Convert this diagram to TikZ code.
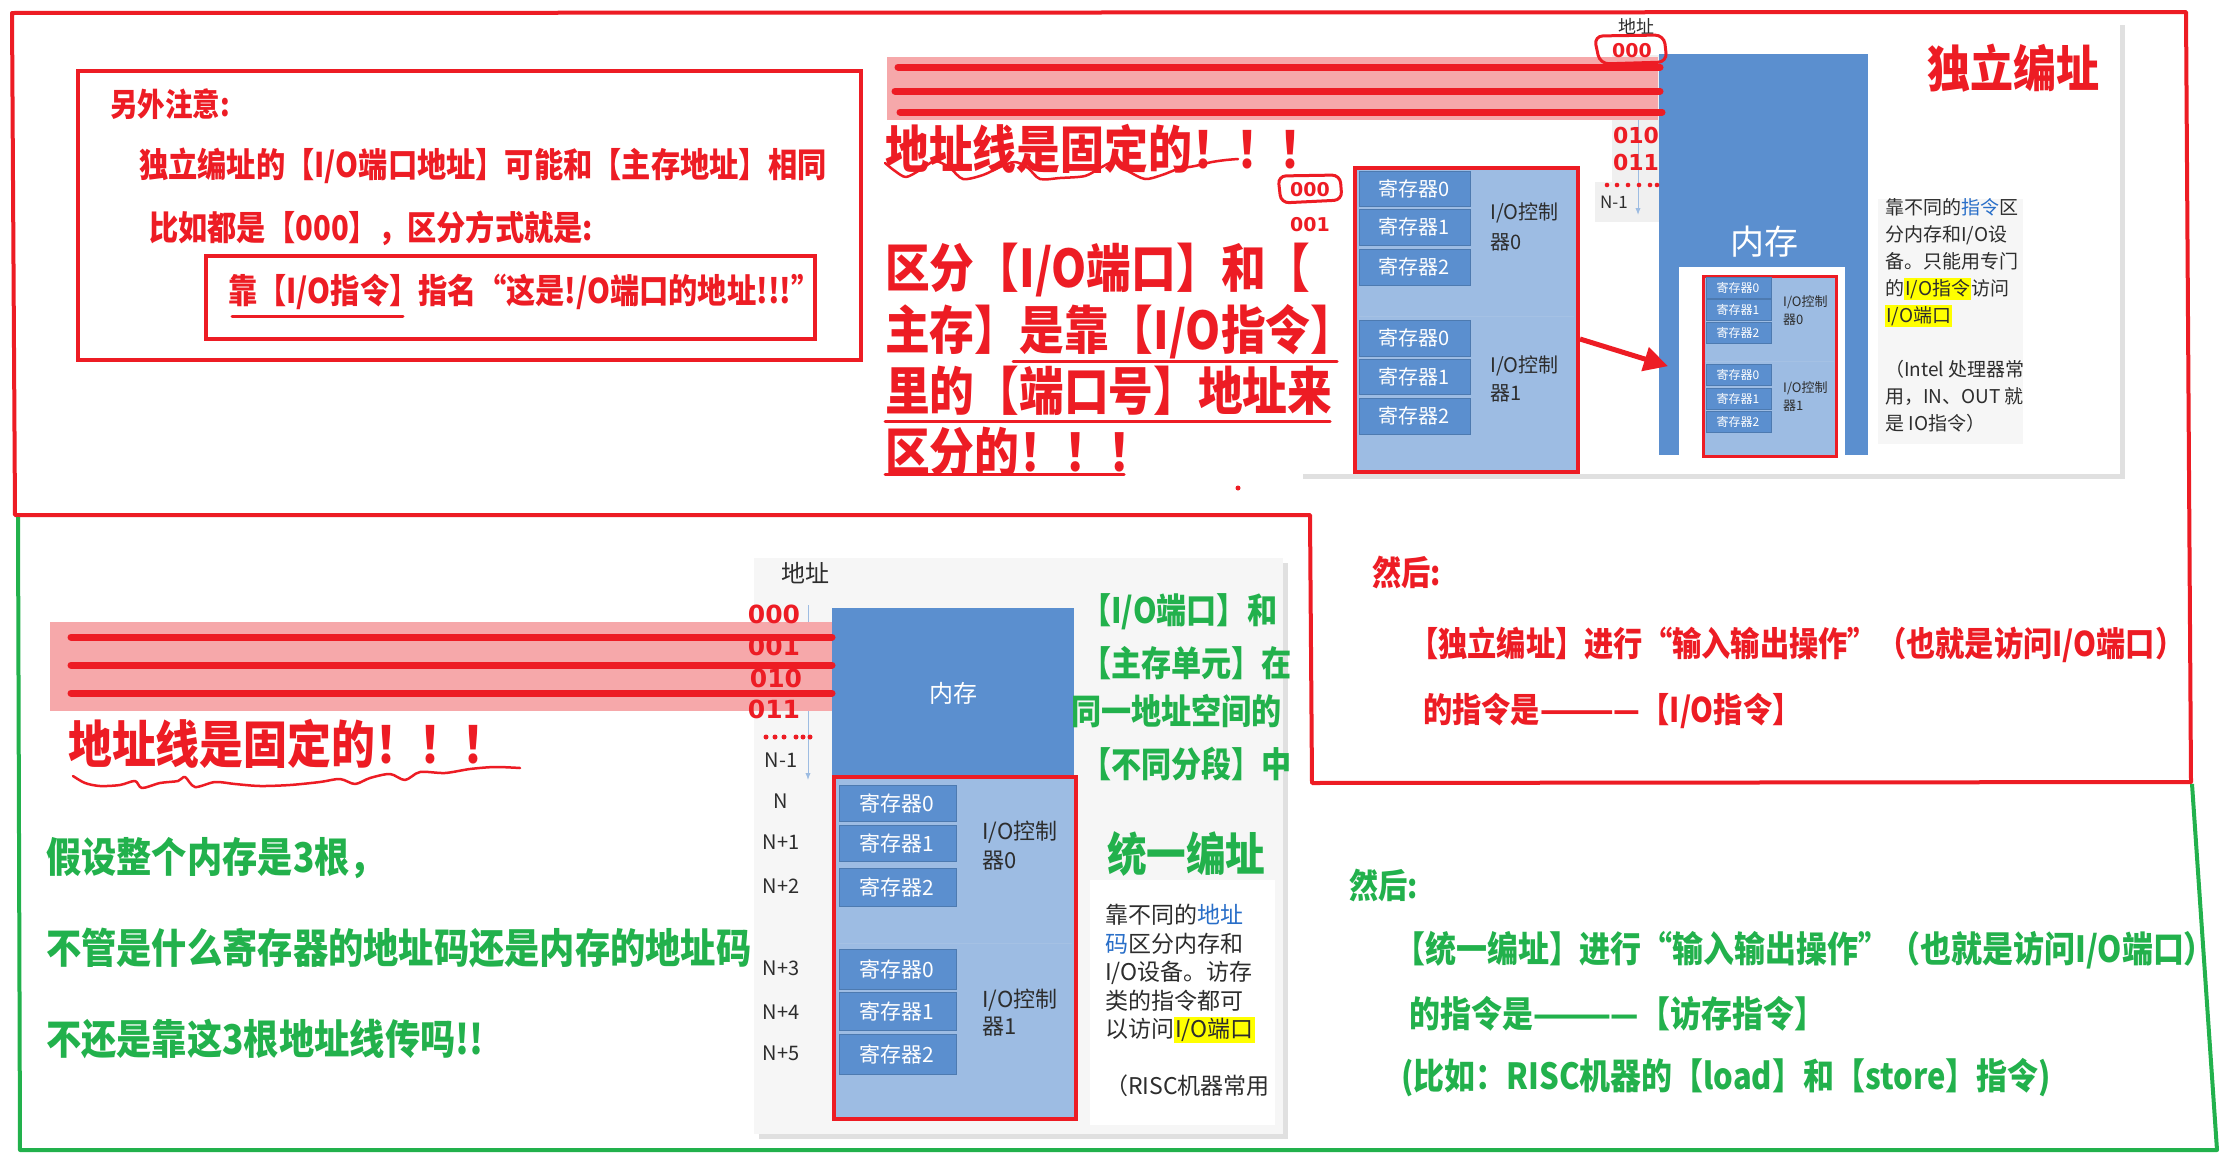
\documentclass[tikz,border=0pt]{standalone}
\usepackage{fontspec}
\newfontfamily\cjk{Noto Sans CJK SC}
\newfontfamily\cjkc[FakeStretch=0.86]{Noto Sans CJK SC}
\newfontfamily\hand{DejaVu Sans}
\usetikzlibrary{arrows.meta}
\definecolor{pred}{RGB}{237,28,36}
\definecolor{pgreen}{RGB}{34,177,76}
\definecolor{pinkband}{RGB}{246,168,170}
\definecolor{memblue}{RGB}{91,143,207}
\definecolor{lightblue}{RGB}{157,188,227}
\definecolor{panelbg}{RGB}{246,246,246}
\definecolor{darktxt}{RGB}{45,45,45}
\definecolor{hlyellow}{RGB}{255,255,0}
\definecolor{linkblue}{RGB}{40,110,200}
\newcommand\myfs[1]{\fontsize{#1}{#1}\selectfont}
\newcommand\myfsl[2]{\fontsize{#1}{#2}\selectfont}
\setlength\fboxsep{1pt}
\begin{document}
\begin{tikzpicture}[x=1pt,y=-1pt,
  redt/.style={text=pred,inner sep=0pt,anchor=west},
  greent/.style={text=pgreen,inner sep=0pt,anchor=west},
  cellbox/.style={fill=memblue,draw=memblue!85!black,line width=0.8pt},
  celltxt/.style={text=white,inner sep=0pt},
  ctltxt/.style={text=darktxt,inner sep=0pt,anchor=west},
  handt/.style={text=pred,inner sep=0pt,font={\hand\bfseries\myfs{25}}},
  addrlab/.style={text=darktxt,inner sep=0pt,font={\cjk\myfs{20}}},
  bigline/.style={pred,line width=7pt,line cap=round},
  uline/.style={pred,line width=3pt,line cap=round},
  wavy/.style={pred,line width=2.5pt,line cap=round,line join=round}]
\useasboundingbox[fill=white] (0,0) rectangle (2231,1170);

% ---------- top-right panel (independent addressing) ----------
\fill[black!12] (1303,25) rectangle (2125,479);
\fill[white] (1298,20) rectangle (2120,474);
\fill[panelbg] (1878,199) rectangle (2023,444);
\fill[black!6] (1612,55) rectangle (1659,222);
\fill[black!6] (1595,182) rectangle (1612,222);
\fill[memblue] (1659,54) rectangle (1868,455);
\node[text=white,inner sep=0pt,font={\cjk\myfs{34}}] (memA) at (1764,242) {内存};
\draw[-{Latex[length=7pt]},memblue!60,line width=1pt] (1638,57) -- (1638,215);
\node[text=darktxt,inner sep=0pt,font={\cjk\myfs{18}}] (addrA) at (1636,26) {地址};
\node[addrlab,font={\cjk\myfs{17}}] (nA) at (1614,202) {N-1};

% IO block A
\node[draw=pred,line width=4pt,fill=lightblue,anchor=north west,minimum width=223,minimum height=304,inner sep=0pt] (ioA) at (1353,166) {};
\draw[memblue!55,line width=1pt] (1359,316) -- (1574,316);
\foreach \y/\h/\t in {171/35/寄存器0,209/36/寄存器1,249/36/寄存器2,320/36/寄存器0,359/35/寄存器1,398/36/寄存器2}{
  \draw[cellbox] (1359,\y) rectangle (1470,\y+\h);
  \node[celltxt,font={\cjk\myfs{20}}] at (1414,\y+\h/2) {\t};
}
\node[ctltxt,font={\cjk\myfs{20}}] (cA0a) at (1490,213) {I/O控制};
\node[ctltxt,font={\cjk\myfs{20}}] (cA0b) at (1490,242) {器0};
\node[ctltxt,font={\cjk\myfs{20}}] (cA1a) at (1490,366) {I/O控制};
\node[ctltxt,font={\cjk\myfs{20}}] (cA1b) at (1490,393) {器1};

% mini replica inside memory
\node[fill=white,anchor=north west,minimum width=166,minimum height=188,inner sep=0pt] (mini) at (1679,267) {};
\node[draw=pred,line width=3pt,fill=lightblue,anchor=north west,minimum width=133,minimum height=180,inner sep=0pt] (miniio) at (1702,275) {};
\draw[memblue!55,line width=0.8pt] (1705,361) -- (1834,361);
\foreach \y/\t in {277/寄存器0,299/寄存器1,322/寄存器2,364/寄存器0,388/寄存器1,411/寄存器2}{
  \draw[cellbox,line width=0.6pt] (1706,\y) rectangle (1771,\y+21);
  \node[celltxt,font={\cjk\myfs{12}}] at (1738,\y+10.5) {\t};
}
\node[ctltxt,font={\cjk\myfs{13}}] (cm0a) at (1783,302) {I/O控制};
\node[ctltxt,font={\cjk\myfs{13}}] (cm0b) at (1783,320) {器0};
\node[ctltxt,font={\cjk\myfs{13}}] (cm1a) at (1783,388) {I/O控制};
\node[ctltxt,font={\cjk\myfs{13}}] (cm1b) at (1783,406) {器1};

\draw[pred,line width=5pt,-{Triangle[length=24pt,width=24pt]}] ([yshift=-19pt]ioA.east) -- ([xshift=-11pt,yshift=-5pt]mini.west);

\node[text=pred,inner sep=0pt,font={\cjkc\bfseries\myfs{50}}] (titleA) at (2013,68) {独立编址};
\node[text=darktxt,inner sep=0pt,anchor=north west,align=left,font={\cjk\myfsl{19}{27}}] (descA) at (1885,198) {%
靠不同的\textcolor{linkblue}{指令}区\\
分内存和I/O设\\
备。只能用专门\\
的\colorbox{hlyellow}{I/O指令}访问\\
\colorbox{hlyellow}{I/O端口}\\
\mbox{}\\
（Intel 处理器常\\
用，IN、OUT 就\\
是 IO指令）};

% ---------- top address band ----------
\fill[pinkband] (887,57) rectangle (1658,120);
\draw[bigline] (898,67) -- (1660,67);
\draw[bigline] (895,91) -- (1660,91);
\draw[bigline] (900,112) -- (1662,112);
\draw[pred,line width=3pt,rounded corners=9pt] (1594,36) -- (1664,35) -- (1667,62) -- (1600,64) -- cycle;
\node[handt,font={\hand\bfseries\myfs{19}}] (hA0) at (1632,51) {000};
\node[handt,font={\hand\bfseries\myfs{22}}] (hA2) at (1636,135) {010};
\node[handt,font={\hand\bfseries\myfs{22}}] (hA3) at (1636,162) {011};
\foreach \x in {1607,1617,1628,1639,1650,1657}{\fill[pred] (\x,185) circle (2.3);}
\draw[pred,line width=3pt,rounded corners=8pt] (1278,176) -- (1340,175) -- (1342,200) -- (1281,203) -- cycle;
\node[handt,font={\hand\bfseries\myfs{19}}] (hB0) at (1310,190) {000};
\node[handt,font={\hand\bfseries\myfs{19}}] (hB1) at (1310,225) {001};

% ---------- top-left note ----------
\draw[pred,line width=4pt] (78,71) rectangle (861,360);
\node[redt,font={\cjkc\bfseries\myfs{32}}] (n1) at (110,104) {另外注意:};
\node[redt,font={\cjkc\bfseries\myfs{34}}] (n2) at (139,166) {独立编址的【I/O端口地址】可能和【主存地址】相同};
\node[redt,font={\cjkc\bfseries\myfs{34}}] (n3) at (149,228) {比如都是【000】，区分方式就是:};
\draw[pred,line width=4pt] (206,256) rectangle (815,339);
\node[redt,font={\cjkc\bfseries\myfs{34}}] (n4) at (228,292) {靠【I/O指令】指名“这是!/O端口的地址!!!”};
\draw[uline] (232,316) -- (403,316);

% ---------- big red statements ----------
\node[redt,font={\cjkc\bfseries\myfs{51}}] (fixA) at (885,149) {地址线是固定的！！！};
\draw[wavy] plot[smooth,tension=0.5] coordinates {(885,163) (895,171) (906,177) (920,170) (935,161) (950,168) (963,179) (983,175) (1000,167) (1015,162) (1028,168) (1040,179) (1060,178) (1085,176) (1100,168) (1114,162) (1128,171) (1145,179) (1162,175) (1178,169) (1195,166) (1212,162) (1226,160) (1238,159)};
\node[redt,font={\cjkc\bfseries\myfs{52}}] (d1) at (885,270) {区分【I/O端口】和【};
\node[redt,font={\cjkc\bfseries\myfs{52}}] (d2) at (885,332) {主存】是靠【I/O指令】};
\node[redt,font={\cjkc\bfseries\myfs{52}}] (d3) at (885,391) {里的【端口号】地址来};
\node[redt,font={\cjkc\bfseries\myfs{52}}] (d4) at (885,452) {区分的！！！};
\draw[uline] (1013,361) -- (1337,361);
\draw[uline] (885,421) -- (1330,421);
\draw[uline] (885,474) -- (1124,474);
\fill[pred] (1238,488) circle (2.5);

% ---------- bottom panel (unified addressing) ----------
\fill[black!12] (759,563) rectangle (1288,1139);
\fill[panelbg] (754,558) rectangle (1283,1134);
\fill[white] (1090,880) rectangle (1275,1125);
\fill[memblue] (832,608) rectangle (1074,775);
\node[text=white,inner sep=0pt,font={\cjk\myfs{24}}] (memB) at (953,693) {内存};
\draw[-{Latex[length=7pt]},memblue!60,line width=1pt] (808,605) -- (808,780);
\node[text=darktxt,inner sep=0pt,font={\cjk\myfs{24}}] (addrB) at (805,573) {地址};
\node[addrlab] (l1) at (781,760) {N-1};
\node[addrlab] (l2) at (781,801) {N};
\node[addrlab] (l3) at (781,842) {N+1};
\node[addrlab] (l4) at (781,886) {N+2};
\node[addrlab] (l5) at (781,968) {N+3};
\node[addrlab] (l6) at (781,1012) {N+4};
\node[addrlab] (l7) at (781,1053) {N+5};

\node[draw=pred,line width=4pt,fill=lightblue,anchor=north west,minimum width=242,minimum height=342,inner sep=0pt] (ioB) at (832,775) {};
\draw[memblue!55,line width=1pt] (839,943) -- (1072,943);
\foreach \y/\h/\t in {785/36/寄存器0,825/36/寄存器1,868/38/寄存器2,949/40/寄存器0,992/38/寄存器1,1034/40/寄存器2}{
  \draw[cellbox] (839,\y) rectangle (956,\y+\h);
  \node[celltxt,font={\cjk\myfs{21}}] at (897,\y+\h/2) {\t};
}
\node[ctltxt,font={\cjk\myfs{22}}] (cB0a) at (982,832) {I/O控制};
\node[ctltxt,font={\cjk\myfs{22}}] (cB0b) at (982,861) {器0};
\node[ctltxt,font={\cjk\myfs{22}}] (cB1a) at (982,1000) {I/O控制};
\node[ctltxt,font={\cjk\myfs{22}}] (cB1b) at (982,1027) {器1};

\node[greent,font={\cjkc\bfseries\myfs{35}}] (g1) at (1081,612) {【I/O端口】和};
\node[greent,font={\cjkc\bfseries\myfs{35}}] (g2) at (1081,663) {【主存单元】在};
\node[greent,font={\cjkc\bfseries\myfs{35}}] (g3) at (1071,711) {同一地址空间的};
\node[greent,font={\cjkc\bfseries\myfs{35}}] (g4) at (1081,764) {【不同分段】中};
\node[greent,font={\cjkc\bfseries\myfs{46}}] (titleB) at (1107,854) {统一编址};
\node[text=darktxt,inner sep=0pt,anchor=north west,align=left,font={\cjk\myfsl{23}{28.5}}] (descB) at (1105,904) {%
靠不同的\textcolor{linkblue}{地址}\\
\textcolor{linkblue}{码}区分内存和\\
I/O设备。访存\\
类的指令都可\\
以访问\colorbox{hlyellow}{I/O端口}\\
\mbox{}\\
（RISC机器常用};

% bottom address band and handwriting
\fill[pinkband] (50,622) rectangle (832,711);
\draw[bigline] (71,637) -- (832,637);
\draw[bigline] (71,665) -- (832,665);
\draw[bigline] (71,693) -- (832,693);
\node[handt] (hC0) at (774,614) {000};
\node[handt] (hC1) at (774,646) {001};
\node[handt] (hC2) at (776,678) {010};
\node[handt] (hC3) at (774,709) {011};
\foreach \x in {766,775,784,796,803,810}{\fill[pred] (\x,737) circle (2.5);}

\node[redt,font={\cjkc\bfseries\myfs{51}}] (fixB) at (68,744) {地址线是固定的！！！};
\draw[wavy] plot[smooth,tension=0.5] coordinates {(73,776) (85,783) (100,786) (120,785) (135,781) (142,788) (160,783) (178,781) (185,777) (195,787) (215,782) (235,784) (260,786) (290,785) (320,782) (340,779) (355,784) (370,778) (390,774) (405,780) (420,772) (445,773) (470,769) (495,767) (520,768)};

\node[greent,font={\cjkc\bfseries\myfs{41}}] (q1) at (46,858) {假设整个内存是3根，};
\node[greent,font={\cjkc\bfseries\myfs{41}}] (q2) at (46,948) {不管是什么寄存器的地址码还是内存的地址码};
\node[greent,font={\cjkc\bfseries\myfs{41}}] (q3) at (46,1039) {不还是靠这3根地址线传吗!!};

% ---------- right text ----------
\node[redt,font={\cjkc\bfseries\myfs{34}}] (r0) at (1372,572) {然后:};
\node[redt,font={\cjkc\bfseries\myfs{34}}] (r1) at (1409,645) {【独立编址】进行“输入输出操作”（也就是访问I/O端口）};
\node[redt,font={\cjkc\bfseries\myfs{34}}] (r2) at (1423,711) {的指令是————【I/O指令】};
\node[greent,font={\cjkc\bfseries\myfs{34}}] (s0) at (1349,885) {然后:};
\node[greent,font={\cjkc\bfseries\myfs{36}}] (s1) at (1394,950) {【统一编址】进行“输入输出操作”（也就是访问I/O端口）};
\node[greent,font={\cjkc\bfseries\myfs{36}}] (s2) at (1409,1014) {的指令是————【访存指令】};
\node[greent,font={\cjkc\bfseries\myfs{36}}] (s3) at (1401,1078) {(比如：RISC机器的【load】和【store】指令)};

% ---------- hand-drawn frames ----------
\draw[pred,line width=4pt,line join=round] (12,13) -- (2186,12) -- (2191,782) -- (1312,783) -- (1310,515) -- (15,515) -- cycle;
\draw[pgreen,line width=4pt,line join=round] (18,517) -- (20,1150) -- (2217,1150) -- (2192,784);
\end{tikzpicture}
\end{document}
